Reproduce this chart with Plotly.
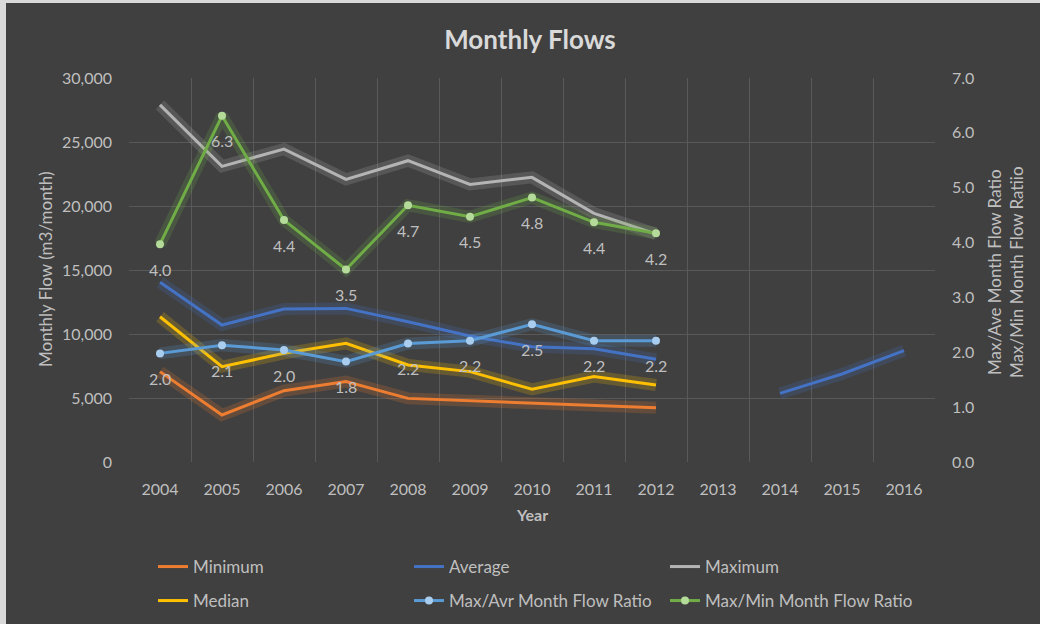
import plotly.graph_objects as go

# ---------------- data ----------------
years = ["2004", "2005", "2006", "2007", "2008", "2009", "2010",
         "2011", "2012", "2013", "2014", "2015", "2016"]
minimum = [7060, 3670, 5570, 6280, 4970, 4790, 4630, 4450, 4240, None, None, None, None]
average = [14040, 10700, 11950, 12000, 10960, 9840, 9010, 8850, 8020, None, 5360, 6875, 8700]
maximum = [27900, 23100, 24450, 22080, 23540, 21690, 22240, 19430, 17810, None, None, None, None]
median = [11350, 7450, 8490, 9270, 7580, 7060, 5680, 6670, 6020, None, None, None, None]
max_avr_ratio = [1.98, 2.13, 2.04, 1.83, 2.16, 2.21, 2.51, 2.21, 2.21, None, None, None, None]
max_min_ratio = [3.97, 6.31, 4.41, 3.51, 4.68, 4.47, 4.82, 4.37, 4.17, None, None, None, None]

FONT = "Lato"
BG = "#404040"
GRID = "#595959"
TXT = "#BFBFBF"

# plot area geometry in pixels
W, H = 1040, 624
L, R, T, B = 129, 105, 78, 162
PW, PH = W - L - R, H - T - B


def px_x(p):
    return (p - L) / PW


def px_y(p):
    return (H - B - p) / PH


fig = go.Figure()

series = [
    ("Minimum", minimum, "#ED7D31", None, "y", "legend"),
    ("Average", average, "#4472C4", None, "y", "legend"),
    ("Maximum", maximum, "#B4B4B4", None, "y", "legend"),
    ("Median", median, "#FFC000", None, "y", "legend2"),
    ("Max/Avr Month Flow Ratio", max_avr_ratio, "#5B9BD5", "#A9CDEE", "y2", "legend2"),
    ("Max/Min Month Flow Ratio", max_min_ratio, "#70AD47", "#B5DB9A", "y2", "legend2"),
]

# soft glow underneath each line
for name, vals, col, mcol, yax, lg in series:
    fig.add_trace(go.Scatter(
        x=years, y=vals, mode="lines", yaxis=yax,
        line=dict(color=col, width=12), opacity=0.2,
        showlegend=False, hoverinfo="skip", connectgaps=False))

for name, vals, col, mcol, yax, lg in series:
    if mcol:
        fig.add_trace(go.Scatter(
            x=years, y=vals, name=name, mode="lines+markers", yaxis=yax,
            line=dict(color=col, width=3),
            marker=dict(color=mcol, size=8),
            legend=lg, connectgaps=False))
    else:
        fig.add_trace(go.Scatter(
            x=years, y=vals, name=name, mode="lines", yaxis=yax,
            line=dict(color=col, width=3),
            legend=lg, connectgaps=False))

annotations = []
for arr in (max_avr_ratio, max_min_ratio):
    for i, v in enumerate(arr):
        if v is None:
            continue
        annotations.append(dict(
            x=i, y=v, xref="x", yref="y2", text=f"{v:.1f}", showarrow=False,
            xanchor="center", yanchor="middle",
            yshift=-25, font=dict(family=FONT, size=16, color=TXT)))

# axis titles
annotations.append(dict(
    x=px_x(45), y=px_y(270), xref="paper", yref="paper", text="Monthly Flow (m3/month)",
    xanchor="center", yanchor="middle",
    textangle=-90, showarrow=False, font=dict(family=FONT, size=17, color=TXT)))
annotations.append(dict(
    x=px_x(1005), y=px_y(272), xref="paper", yref="paper",
    text="Max/Ave Month Flow Ratio<br>Max/Min Month Flow Ratiio",
    xanchor="center", yanchor="middle",
    textangle=-90, showarrow=False, font=dict(family=FONT, size=17, color=TXT)))
annotations.append(dict(
    x=px_x(532), y=px_y(514), xref="paper", yref="paper", text="<b>Year</b>",
    xanchor="center", yanchor="middle",
    showarrow=False, font=dict(family=FONT, size=16, color=TXT)))

# dark chart panel over a light page edge (top and left)
shapes = [
    dict(type="rect", xref="paper", yref="paper", x0=px_x(6), x1=px_x(W + 5), y0=px_y(H + 5), y1=px_y(3),
         fillcolor=BG, line=dict(width=0), layer="below"),
]

fig.update_layout(
    width=W, height=H,
    margin=dict(l=L, r=R, t=T, b=B, autoexpand=False),
    paper_bgcolor="#D9D9D9", plot_bgcolor=BG,
    font=dict(family=FONT, size=16, color=TXT),
    title=dict(text="<b>Monthly Flows</b>", x=px_x(530), xref="paper", xanchor="center",
               y=1 - 40 / H, yanchor="middle", font=dict(family=FONT, size=26, color="#D9D9D9")),
    xaxis=dict(type="category", range=[-0.5, 12.5], showgrid=True, gridcolor=GRID, gridwidth=1,
               tickson="boundaries", ticks="", showline=False, zeroline=False, automargin=False,
               tickfont=dict(family=FONT, size=16, color=TXT), ticklabelstandoff=16),
    yaxis=dict(range=[0, 30000], dtick=5000, tickformat=",", showgrid=True, gridcolor=GRID,
               zeroline=False, showline=False, ticks="", automargin=False,
               tickfont=dict(family=FONT, size=16, color=TXT), ticklabelstandoff=16),
    yaxis2=dict(range=[0, 7], dtick=1, tickformat=".1f", overlaying="y", side="right",
                showgrid=False, zeroline=False, showline=False, ticks="", automargin=False,
                tickfont=dict(family=FONT, size=16, color=TXT), ticklabelstandoff=16),
    legend=dict(orientation="h", x=px_x(153), xanchor="left", y=px_y(567), yanchor="middle",
                entrywidth=211, entrywidthmode="pixels", bgcolor="rgba(0,0,0,0)",
                font=dict(family=FONT, size=17, color=TXT)),
    legend2=dict(orientation="h", x=px_x(153), xanchor="left", y=px_y(601), yanchor="middle",
                 entrywidth=211, entrywidthmode="pixels", bgcolor="rgba(0,0,0,0)",
                 font=dict(family=FONT, size=17, color=TXT)),
    annotations=annotations,
    shapes=shapes,
    showlegend=True,
    hovermode=False,
)

fig.write_html("out.html", config={"displayModeBar": False},
               post_script="document.body.style.margin='0';")
